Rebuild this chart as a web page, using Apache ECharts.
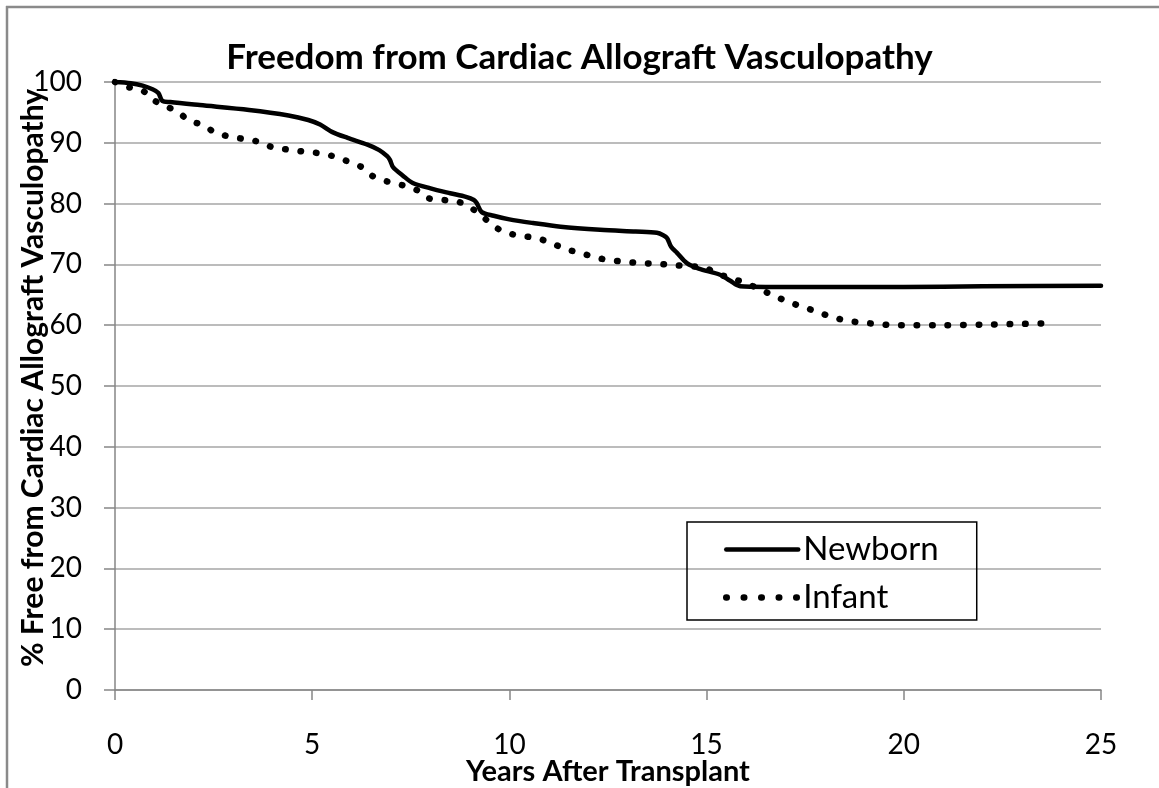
<!DOCTYPE html>
<html>
<head>
<meta charset="utf-8">
<script src="https://cdn.jsdelivr.net/npm/echarts@6/dist/echarts.min.js"></script>
<style>
html,body{margin:0;padding:0;background:#fff;}
#c{width:1159px;height:788px;}
</style>
</head>
<body>
<div id="c"></div>
<script>
var titleText = 'Freedom from Cardiac Allograft Vasculopathy';
var xAxisName = 'Years After Transplant';
var yAxisName = '% Free from Cardiac Allograft Vasculopathy';
var seriesNames = ['Newborn', 'Infant'];

var newbornYears = [0,0.4,0.7,0.95,1.1,1.2,1.4,2.15,3.4,4.4,4.9,5.2,5.5,5.9,6.4,6.7,6.9,6.97,7.05,7.3,7.55,8.0,8.5,8.9,9.1,9.17,9.3,9.6,10.0,10.6,11.3,12.3,13.2,13.74,13.9,14.0,14.1,14.25,14.5,14.8,15.34,15.6,15.85,16.5,17.4,20,22,25];
var newbornPct   = [100,99.8,99.4,98.8,98.2,96.9,96.7,96.2,95.4,94.5,93.75,93.0,91.8,90.8,89.7,88.8,87.8,87.2,86.0,84.6,83.4,82.5,81.7,81.1,80.6,80.1,78.6,78.0,77.4,76.8,76.2,75.7,75.4,75.2,74.8,74.3,72.9,71.9,70.2,69.3,68.3,67.3,66.4,66.3,66.3,66.3,66.4,66.5];

var infantYears = [0,0.3,0.68,0.93,1.27,1.6,1.85,2.23,2.54,2.92,3.3,3.68,3.98,4.36,4.74,5.15,5.53,5.88,6.26,6.54,6.92,7.3,7.66,7.94,8.32,8.7,9.0,9.3,9.6,9.93,10.3,10.7,11.07,11.43,11.8,12.2,12.57,12.96,13.34,13.74,14.15,14.53,14.9,15.26,15.64,16.0,16.38,16.73,17.08,17.45,17.8,18.2,18.6,18.97,19.35,19.73,20.1,21,22,22.87,23.65];
var infantPct   = [100,99.2,98.7,97.2,96.05,95.1,93.75,92.9,91.7,91.0,90.6,90.1,89.3,88.9,88.6,88.3,87.8,87.0,86.0,84.5,83.6,83.0,82.2,80.9,80.6,80.3,79.4,78.0,76.3,75.2,74.7,74.3,73.5,72.5,71.9,71.1,70.7,70.4,70.2,70.1,69.9,69.7,69.6,68.5,67.7,66.9,65.8,64.8,63.8,63.0,62.2,61.3,60.7,60.4,60.2,60.0,60.0,60.0,60.1,60.2,60.3];

function pairs(xs, ys){ return xs.map(function(x,i){ return [x, ys[i]]; }); }

var FONT = 'Lato';
var solidStyle = {color: '#000', width: 4.5, cap: 'round', join: 'round'};
var dotStyle = {color: '#000', width: 6.5, type: [0.5, 15], cap: 'round'};

var chart = echarts.init(document.getElementById('c'));
chart.setOption({
  animation: false,
  backgroundColor: '#fff',
  title: {
    text: titleText, left: 'center', top: 35,
    textStyle: {fontFamily: FONT, fontSize: 35, fontWeight: 'bold', color: '#000'}
  },
  grid: {left: 115, right: 58, top: 82, bottom: 98, outerBoundsMode: 'none', containLabel: false},
  legend: {
    orient: 'vertical', left: 687, top: 522,
    data: [
      {name: seriesNames[0], lineStyle: {width: 4.5, type: 'solid', cap: 'round'}},
      {name: seriesNames[1], lineStyle: {width: 6.5, type: [0.5, 17], cap: 'round'}}
    ],
    itemWidth: 72, itemHeight: 30, itemGap: 15,
    padding: [11, 38, 6, 36],
    borderColor: '#000', borderWidth: 1.5,
    itemStyle: {opacity: 0},
    textStyle: {fontFamily: FONT, fontSize: 33, lineHeight: 30, color: '#000'}
  },
  xAxis: {
    type: 'value', min: 0, max: 25, interval: 5,
    name: xAxisName, nameLocation: 'middle', nameGap: 67, nameMoveOverlap: false,
    nameTextStyle: {fontFamily: FONT, fontSize: 29, fontWeight: 'bold', color: '#000'},
    axisLine: {show: true, onZero: false, lineStyle: {color: '#868686', width: 1.5}},
    axisTick: {show: true, length: 10, lineStyle: {color: '#868686', width: 1.5}},
    axisLabel: {fontFamily: FONT, fontSize: 28, color: '#000', margin: 41},
    splitLine: {show: false}
  },
  yAxis: {
    type: 'value', min: 0, max: 100, interval: 10,
    name: yAxisName, nameLocation: 'middle', nameGap: 67, nameRotate: 90, nameMoveOverlap: false,
    nameTextStyle: {fontFamily: FONT, fontSize: 30, fontWeight: 'bold', color: '#000', padding: [0, 0, 0, 16]},
    axisLine: {show: true, lineStyle: {color: '#868686', width: 1.5}},
    axisTick: {show: true, length: 11, lineStyle: {color: '#868686', width: 1.5}},
    axisLabel: {fontFamily: FONT, fontSize: 28, color: '#000', margin: 33},
    splitLine: {show: true, lineStyle: {color: '#a6a6a6', width: 1.5}}
  },
  series: [
    {
      name: seriesNames[0], type: 'line', symbol: 'none', smooth: 0.3,
      data: pairs(newbornYears, newbornPct),
      lineStyle: solidStyle,
      itemStyle: {color: '#000'}
    },
    {
      name: seriesNames[1], type: 'line', symbol: 'none', smooth: 0.3,
      data: pairs(infantYears, infantPct),
      lineStyle: dotStyle,
      itemStyle: {color: '#000'}
    }
  ],
  graphic: [
    {type: 'line', shape: {x1: 6, y1: 7, x2: 1159, y2: 7}, style: {stroke: '#8a8a8a', lineWidth: 2.5}, silent: true},
    {type: 'line', shape: {x1: 7, y1: 6, x2: 7, y2: 788}, style: {stroke: '#8a8a8a', lineWidth: 2.5}, silent: true}
  ]
});
</script>
</body>
</html>
